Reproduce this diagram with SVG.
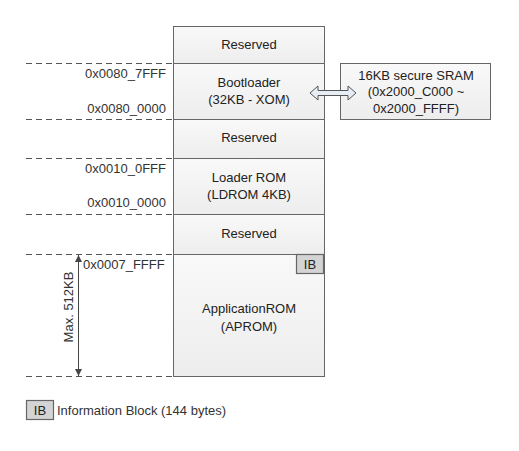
<svg xmlns="http://www.w3.org/2000/svg" width="519" height="451" viewBox="0 0 519 451">
<style>
text{font-family:"Liberation Sans",Arial,sans-serif;font-size:13px;fill:#222}
.c{text-anchor:middle}
.r{text-anchor:end}
.addr{fill:#333}
.blk{fill:url(#g);stroke:#666;stroke-width:1}
.dash{stroke:#555;stroke-width:1;stroke-dasharray:6 4;fill:none}
.ib{fill:#d4d4d4;stroke:#666;stroke-width:1.2}
</style>
<defs>
<linearGradient id="g" x1="0" y1="0" x2="0" y2="1">
<stop offset="0" stop-color="#f9f9f9"/>
<stop offset="1" stop-color="#ededed"/>
</linearGradient>
<marker id="ah" viewBox="0 0 10 10" refX="10" refY="5" markerWidth="7" markerHeight="7" orient="auto-start-reverse" markerUnits="userSpaceOnUse">
<path d="M0,0 L10,5 L0,10 z" fill="#444"/>
</marker>
</defs>
<rect width="519" height="451" fill="#fff"/>
<g id="connectors">
<path class="dash" d="M26,63.5H173M26,119.5H173M26,158.5H173M26,214.5H173M26,254.5H173M26,376.5H173"/>
<line x1="78.5" y1="255" x2="78.5" y2="376" stroke="#444" stroke-width="1" marker-start="url(#ah)" marker-end="url(#ah)"/>
</g>
<g id="reserved1"><rect class="blk" x="173.5" y="26.5" width="151" height="37"/><text class="c" x="249" y="48.5">Reserved</text></g>
<g id="bootloader"><rect class="blk" x="173.5" y="63.5" width="151" height="56"/><text class="c" x="249" y="86.5">Bootloader</text><text class="c" x="249" y="103.5">(32KB - XOM)</text></g>
<g id="reserved2"><rect class="blk" x="173.5" y="119.5" width="151" height="39"/><text class="c" x="249" y="141.5">Reserved</text></g>
<g id="ldrom"><rect class="blk" x="173.5" y="158.5" width="151" height="56"/><text class="c" x="249" y="181.5">Loader ROM</text><text class="c" x="249" y="198.5">(LDROM 4KB)</text></g>
<g id="reserved3"><rect class="blk" x="173.5" y="214.5" width="151" height="40"/><text class="c" x="249" y="237.5">Reserved</text></g>
<g id="aprom"><rect class="blk" x="173.5" y="254.5" width="151" height="122"/><text class="c" x="249" y="312.5">ApplicationROM</text><text class="c" x="249" y="330.5">(APROM)</text>
<rect class="ib" x="296.5" y="254.5" width="27" height="19"/><text class="c" x="310" y="268.5">IB</text></g>
<g id="sram"><rect class="blk" x="340.5" y="63.5" width="150" height="56"/><text class="c" x="416" y="79.5">16KB secure SRAM</text><text class="c" x="416" y="96">(0x2000_C000 ~</text><text class="c" x="416" y="112.5">0x2000_FFFF)</text></g>
<g id="arrow"><path d="M310,93 L318,86 L318,90.5 L348,90.5 L348,86 L356,93 L348,100 L348,95.5 L318,95.5 L318,100 Z" fill="#e6edf7" stroke="#555" stroke-width="1"/></g>
<g id="addresses">
<text class="r addr" x="166" y="77.5">0x0080_7FFF</text>
<text class="r addr" x="166" y="112.5">0x0080_0000</text>
<text class="r addr" x="166" y="172.5">0x0010_0FFF</text>
<text class="r addr" x="166" y="206.5">0x0010_0000</text>
<text class="addr" x="83" y="268.5">0x0007_FFFF</text>
<text class="c addr" transform="translate(72.5,307) rotate(-90)">Max. 512KB</text>
</g>
<g id="legend"><rect class="ib" x="26.5" y="400.5" width="27" height="19"/><text class="c" x="40" y="414.5">IB</text><text class="addr" x="57" y="414.5">Information Block (144 bytes)</text></g>
</svg>
